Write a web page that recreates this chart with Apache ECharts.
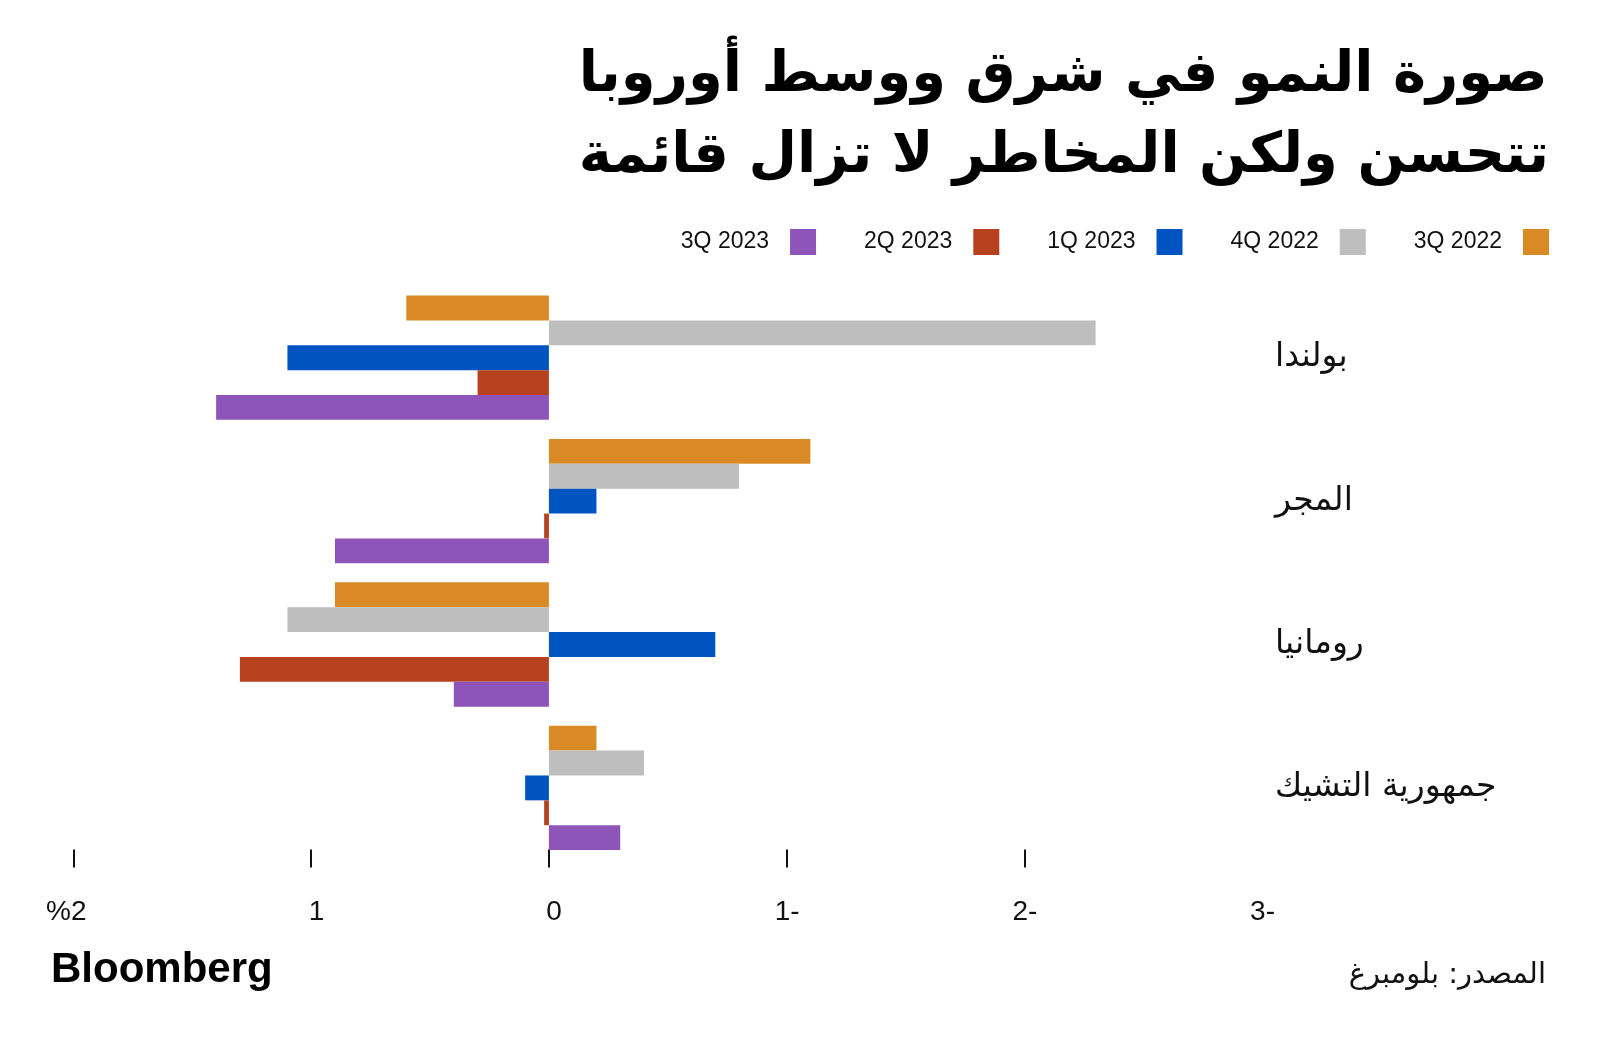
<!DOCTYPE html>
<html>
<head>
<meta charset="utf-8">
<script src="https://cdn.jsdelivr.net/npm/echarts@6/dist/echarts.min.js"></script>
<style>html,body{margin:0;padding:0;background:#fff}#c{width:1600px;height:1048px}</style>
</head>
<body>
<div id="c"></div>
<script>
const countries = ['بولندا', 'المجر', 'رومانيا', 'جمهورية التشيك'];
const seriesNames = ['3Q 2022', '4Q 2022', '1Q 2023', '2Q 2023', '3Q 2023'];
const q3_2022 = [0.6, -1.1, 0.9, -0.2];
const q4_2022 = [-2.3, -0.8, 1.1, -0.4];
const q1_2023 = [1.1, -0.2, -0.7, 0.1];
const q2_2023 = [0.3, 0.02, 1.3, 0.02];
const q3_2023 = [1.4, 0.9, 0.4, -0.3];
const tickValues = [2, 1, 0, -1, -2];
const titleText = 'صورة النمو في شرق ووسط أوروبا\nتتحسن ولكن المخاطر لا تزال قائمة';
const sourceText = 'المصدر: بلومبرغ';

const colors = ['#DA8A24', '#BEBEBE', '#0054C2', '#B5411E', '#8D55B9'];
const values = [q3_2022, q4_2022, q1_2023, q2_2023, q3_2023];

const chart = echarts.init(document.getElementById('c'));
chart.setOption({
  animation: false,
  backgroundColor: '#fff',
  title: {
    text: titleText,
    right: 46,
    top: 31,
    textStyle: {fontFamily: 'DejaVu Sans', fontWeight: 'bold', fontSize: 56, lineHeight: 81, color: '#000'}
  },
  legend: {
    data: seriesNames.slice().reverse(),
    right: 46,
    top: 224,
    align: 'right',
    icon: 'rect',
    itemWidth: 26,
    itemHeight: 26,
    itemGap: 48,
    textStyle: {fontFamily: 'Liberation Sans', fontSize: 23, color: '#111', padding: [0, 16, 0, 0]}
  },
  grid: {left: 73.5, right: 338, top: 286, bottom: 188.4, containLabel: false},
  xAxis: {
    type: 'value',
    min: -3, max: 2, interval: 1,
    inverse: true,
    offset: -10,
    splitLine: {show: false},
    axisLine: {show: false},
    axisTick: {show: true, customValues: tickValues, length: 18, lineStyle: {color: '#111', width: 2}},
    axisLabel: {
      margin: 49,
      align: 'right',
      padding: [0, -13, 0, 0],
      fontFamily: 'Liberation Sans', fontSize: 28, color: '#111',
      formatter: v => v === 2 ? '%2' : (v < 0 ? (-v) + '-' : String(v))
    }
  },
  yAxis: {
    type: 'category',
    data: countries,
    inverse: true,
    position: 'right',
    axisLine: {show: false},
    axisTick: {show: false},
    axisLabel: {align: 'left', margin: 13, fontFamily: 'DejaVu Sans', fontSize: 33, color: '#111'}
  },
  series: seriesNames.map((n, i) => ({
    name: n,
    type: 'bar',
    data: values[i],
    itemStyle: {color: colors[i]},
    barGap: '0%',
    barCategoryGap: '13.3%'
  })),
  graphic: [
    {type: 'text', left: 51, top: 949, style: {text: 'Bloomberg', fontFamily: 'Liberation Sans', fontWeight: 'bold', fontSize: 42, fill: '#000'}},
    {type: 'text', right: 54, top: 961, style: {text: sourceText, fontFamily: 'DejaVu Sans', fontSize: 29, fill: '#111'}}
  ]
});
</script>
</body>
</html>
